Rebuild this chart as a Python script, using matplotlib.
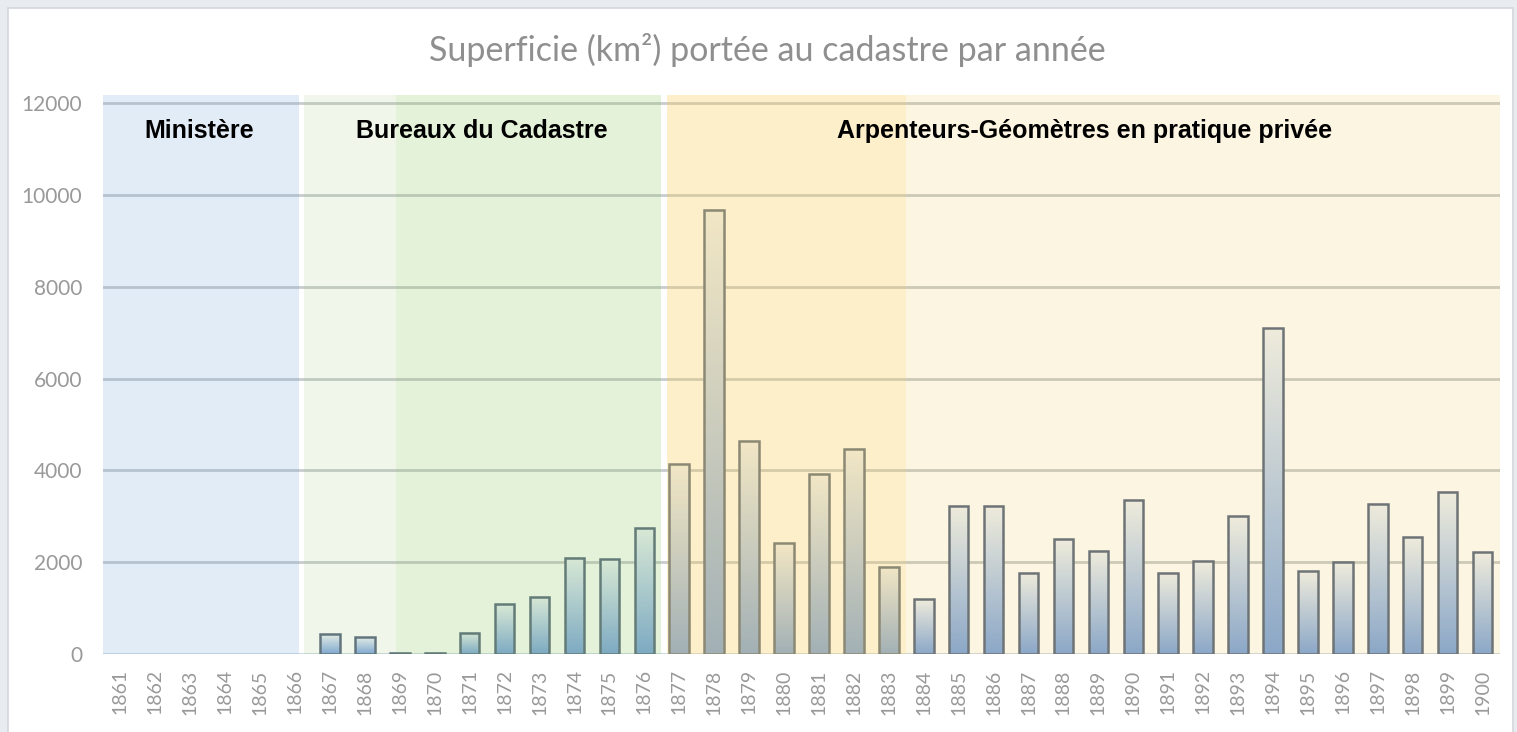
import matplotlib.pyplot as plt
import matplotlib.patches as mpatches
import numpy as np
from matplotlib.colors import LinearSegmentedColormap

years = [str(y) for y in range(1861, 1901)]
superficie = [0, 0, 0, 0, 0, 0, 430, 370, 30, 30,
              465, 1080, 1245, 2100, 2060, 2745, 4130, 9680, 4645, 2415,
              3920, 4470, 1905, 1195, 3225, 3225, 1775, 2500, 2245, 3360,
              1775, 2020, 3000, 7100, 1800, 2000, 3275, 2550, 3530, 2215]

# periodes (bornes en position de categorie, couleur, alpha)
bandes = [(-0.5, 5.11, (110/255, 160/255, 210/255), 0.2),
          (5.26, 7.9, (138/255, 188/255, 80/255), 0.12),
          (7.9, 15.48, (125/255, 190/255, 70/255), 0.2),
          (15.64, 22.5, (248/255, 202/255, 78/255), 0.3),
          (22.5, 39.5, (238/255, 180/255, 13/255), 0.12)]
periodes = ['Ministère', 'Bureaux du Cadastre', 'Arpenteurs-Géomètres en pratique privée']
periodes_x = [2.26, 10.34, 27.6]

fig = plt.figure(figsize=(15.17, 7.32), dpi=100, facecolor='#e8ecf0')
fond = mpatches.Rectangle((8/1517, -0.01), 1505/1517, 1.01 - 8/732, transform=fig.transFigure,
                          facecolor='white', edgecolor='#d3d7db', lw=1.2, zorder=-5)
fig.patches.append(fond)

ax = fig.add_axes([103/1517, 1 - 654/732, 1397/1517, 559/732])
ax.set_facecolor('none')
ax.set_xlim(-0.5, 39.5)
ax.set_ylim(0, 12175)

for yv in range(2000, 12001, 2000):
    ax.axhline(yv, color='#c8cccf', lw=2, zorder=1)
ax.axhline(0, color='#cbd6e3', lw=2, zorder=1)

cmap = LinearSegmentedColormap.from_list('barre', ['#f0f4f9', '#7ea6e2'])
grad = np.linspace(0, 1, 256).reshape(-1, 1)
w = 0.56
for i, v in enumerate(superficie):
    if v <= 0:
        continue
    # degrade : clair en haut, bleu en bas
    ax.imshow(grad, cmap=cmap, extent=[i - w/2, i + w/2, 0, v], aspect='auto',
              origin='upper', zorder=2, interpolation='bilinear')
    ax.add_patch(mpatches.Rectangle((i - w/2, 0), w, v, facecolor='none',
                                    edgecolor='#5d6c85', lw=1.8, zorder=3))
ax.set_xlim(-0.5, 39.5)
ax.set_ylim(0, 12175)

for x0, x1, c, a in bandes:
    ax.add_patch(mpatches.Rectangle((x0, 0), x1 - x0, 12175, facecolor=c, alpha=a,
                                    edgecolor='none', zorder=4))

for lab, xp in zip(periodes, periodes_x):
    ax.text(xp, 11390, lab, ha='center', va='center', fontsize=18, fontweight='bold',
            family=['Liberation Sans Narrow', 'Liberation Sans', 'DejaVu Sans'], color='black', zorder=6)

ax.set_xticks(range(len(years)))
ax.set_xticklabels(years, rotation=90, fontsize=14, color='#999999', family=['Lato', 'DejaVu Sans'])
ax.set_yticks(range(0, 12001, 2000))
ax.set_yticklabels([str(t) for t in range(0, 12001, 2000)], fontsize=15, color='#999999',
                   family=['Lato', 'DejaVu Sans'])
ax.tick_params(axis='both', length=0)
ax.tick_params(axis='x', pad=11)
ax.tick_params(axis='y', pad=15)
for s in ax.spines.values():
    s.set_visible(False)

fig.text(767/1517, 1 - 50/732, 'Superficie (km²) portée au cadastre par année', ha='center', va='center',
         fontsize=24.5, color='#8f8f8f', family=['Lato', 'DejaVu Sans'])

fig.savefig('out.png', dpi=100, facecolor=fig.get_facecolor())
